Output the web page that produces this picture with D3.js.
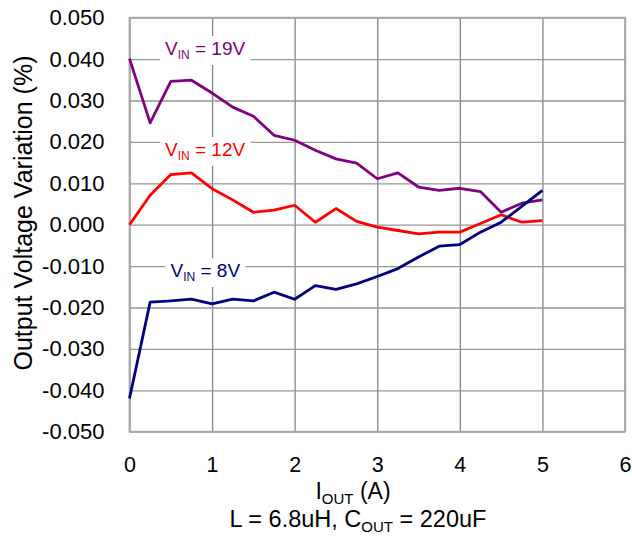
<!DOCTYPE html>
<html>
<head>
<meta charset="utf-8">
<script src="https://cdn.jsdelivr.net/npm/d3@7/dist/d3.min.js"></script>
<style>
  html, body { margin: 0; padding: 0; background: #fff; }
  svg { display: block; }
  text { font-family: "Liberation Sans", Arial, sans-serif; fill: #000; }
</style>
</head>
<body>
<svg id="chart" width="632" height="537"></svg>
<script>
// ---------- data ----------
const currents = [0, 0.25, 0.5, 0.75, 1, 1.25, 1.5, 1.75, 2, 2.25, 2.5, 2.75, 3, 3.25, 3.5, 3.75, 4, 4.25, 4.5, 4.75, 5];
const vin19 = [0.0401, 0.0246, 0.0346, 0.0349, 0.0318, 0.0284, 0.0262, 0.0216, 0.0204, 0.0180, 0.0159, 0.0149, 0.0111, 0.0125, 0.0091, 0.0083, 0.0088, 0.0080, 0.0030, 0.0052, 0.0060];
const vin12 = [0.0000, 0.0071, 0.0121, 0.0125, 0.0087, 0.0060, 0.0030, 0.0035, 0.0047, 0.0006, 0.0039, 0.0008, -0.0006, -0.0014, -0.0022, -0.0018, -0.0018, 0.0003, 0.0024, 0.0006, 0.0010];
const vin8  = [-0.0420, -0.0187, -0.0184, -0.0180, -0.0191, -0.0180, -0.0184, -0.0163, -0.0180, -0.0147, -0.0156, -0.0143, -0.0125, -0.0106, -0.0078, -0.0052, -0.0048, -0.0018, 0.0006, 0.0044, 0.0083];
const seriesNames = ["19V", "12V", "8V"];
const xTicks = [0, 1, 2, 3, 4, 5, 6];
const yTicks = [0.05, 0.04, 0.03, 0.02, 0.01, 0, -0.01, -0.02, -0.03, -0.04, -0.05];
const yTickLabels = ["0.050", "0.040", "0.030", "0.020", "0.010", "0.000", "-0.010", "-0.020", "-0.030", "-0.040", "-0.050"];

// ---------- layout ----------
const svg = d3.select("#chart");
const L = 129.5, R = 625, T = 17.7, B = 431.7;
const x = d3.scaleLinear().domain([0, 6]).range([L, R]);
const y = d3.scaleLinear().domain([-0.05, 0.05]).range([B, T]);

// gridlines
const gGrid = svg.append("g");
gGrid.append("g").attr("transform", `translate(0,${B})`)
  .call(d3.axisBottom(x).tickValues(xTicks).tickSize(-(B - T)).tickFormat(""))
  .call(g => g.select(".domain").remove())
  .call(g => g.selectAll("line").attr("stroke", "#868686").attr("stroke-width", 1.3));
gGrid.append("g").attr("transform", `translate(${L},0)`)
  .call(d3.axisLeft(y).tickValues(yTicks).tickSize(-(R - L)).tickFormat(""))
  .call(g => g.select(".domain").remove())
  .call(g => g.selectAll("line").attr("stroke", "#969696").attr("stroke-width", 1.3));

// plot frame
svg.append("rect").attr("x", L).attr("y", T).attr("width", R - L).attr("height", B - T)
  .attr("fill", "none").attr("stroke", "#a8a8a8").attr("stroke-width", 1.8);

// tick labels
svg.append("g").attr("transform", `translate(${L - 25},0)`)
  .call(d3.axisLeft(y).tickValues(yTicks).tickSize(0).tickPadding(0)
    .tickFormat((d, i) => yTickLabels[i]))
  .call(g => g.select(".domain").remove())
  .call(g => g.selectAll("text").attr("font-size", 22).attr("font-family", "Liberation Sans, Arial, sans-serif").attr("fill", "#000"));

svg.append("g").attr("transform", `translate(0,${B + 25})`)
  .call(d3.axisBottom(x).tickValues(xTicks).tickSize(0).tickPadding(0).tickFormat(d3.format("d")))
  .call(g => g.select(".domain").remove())
  .call(g => g.selectAll("text").attr("font-size", 21.5).attr("font-family", "Liberation Sans, Arial, sans-serif").attr("fill", "#000"));

// lines
const colors = ["#800080", "#ff0000", "#000080"];
const allSeries = [vin19, vin12, vin8];
const line = d3.line().x((d, i) => x(currents[i])).y(d => y(d));
allSeries.forEach((s, k) => {
  svg.append("path").datum(s).attr("d", line)
    .attr("fill", "none").attr("stroke", colors[k]).attr("stroke-width", 2.8)
    .attr("stroke-linejoin", "round");
});

// series labels
const labelPos = [
  { x: 165, y: 55 },
  { x: 165, y: 156 },
  { x: 170.5, y: 277 }
];
seriesNames.forEach((name, k) => {
  const g = svg.append("g");
  const t = g.append("text").attr("x", labelPos[k].x).attr("y", labelPos[k].y)
    .attr("fill", colors[k]).style("fill", colors[k]).attr("font-size", 19);
  t.append("tspan").text("V");
  t.append("tspan").attr("font-size", 12).attr("dy", 4).text("IN");
  t.append("tspan").attr("dy", -4).text(" = " + name);
  const bb = t.node().getBBox();
  g.insert("rect", "text").attr("x", bb.x - 5).attr("y", labelPos[k].y - 19)
    .attr("width", bb.width + 10).attr("height", 29).attr("fill", "#fff");
});

// axis titles
const xt = svg.append("text").attr("x", 353).attr("y", 499).attr("text-anchor", "middle").attr("font-size", 23);
xt.append("tspan").text("I");
xt.append("tspan").attr("font-size", 15).attr("dy", 5).text("OUT");
xt.append("tspan").attr("dy", -5).text(" (A)");

const st = svg.append("text").attr("x", 358).attr("y", 527).attr("text-anchor", "middle").attr("font-size", 23.5);
st.append("tspan").text("L = 6.8uH, C");
st.append("tspan").attr("font-size", 15).attr("dy", 5).text("OUT");
st.append("tspan").attr("dy", -5).text(" = 220uF");

svg.append("text").attr("transform", "translate(32,213) rotate(-90)")
  .attr("text-anchor", "middle").attr("font-size", 25).text("Output Voltage Variation (%)");
</script>
</body>
</html>
